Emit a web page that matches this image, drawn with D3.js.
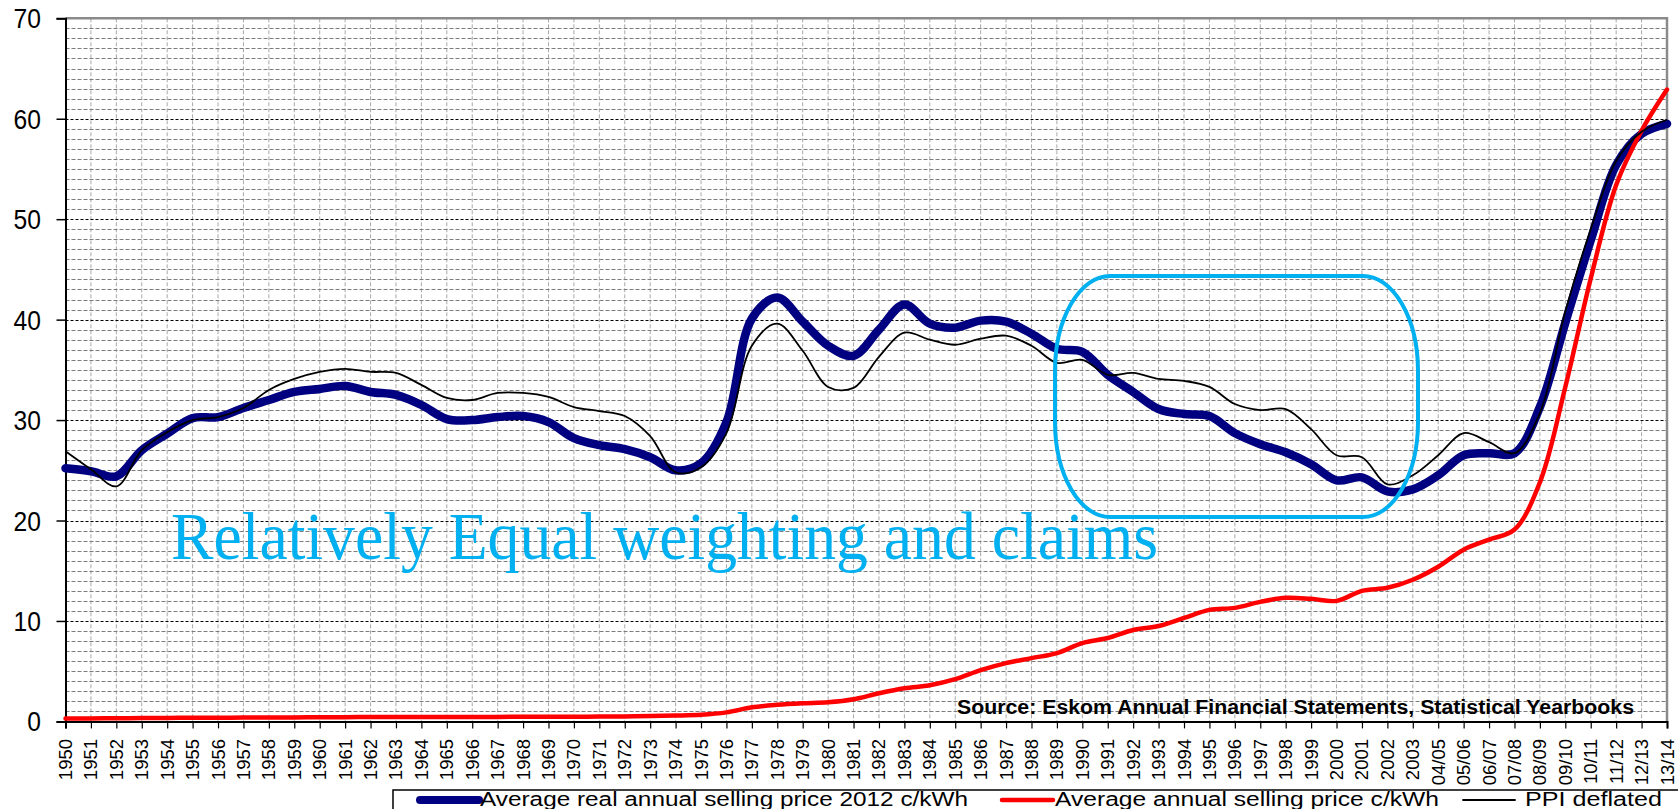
<!DOCTYPE html>
<html>
<head>
<meta charset="utf-8">
<script src="https://cdn.jsdelivr.net/npm/d3@7"></script>
<style>
  html, body { margin: 0; padding: 0; background: #fff; }
  svg { display: block; }
</style>
</head>
<body>
<svg id="chart" width="1678" height="809"></svg>
<script>
// ---------------- DATA ----------------
const categories = [
  "1950","1951","1952","1953","1954","1955","1956","1957","1958","1959",
  "1960","1961","1962","1963","1964","1965","1966","1967","1968","1969",
  "1970","1971","1972","1973","1974","1975","1976","1977","1978","1979",
  "1980","1981","1982","1983","1984","1985","1986","1987","1988","1989",
  "1990","1991","1992","1993","1994","1995","1996","1997","1998","1999",
  "2000","2001","2002","2003","04/05","05/06","06/07","07/08","08/09","09/10",
  "10/11","11/12","12/13","13/14"
];

const realPrice2012 = [
  25.2, 24.9, 24.4, 27.0, 28.65, 30.2, 30.3, 31.2, 32.0, 32.8,
  33.1, 33.4, 32.8, 32.5, 31.5, 30.1, 30.0, 30.3, 30.4, 29.8,
  28.2, 27.5, 27.1, 26.3, 25.0, 25.7, 29.8, 40.1, 42.2, 39.8,
  37.4, 36.4, 39.0, 41.5, 39.6, 39.2, 39.9, 39.8, 38.6, 37.1,
  36.8, 34.5, 32.8, 31.1, 30.6, 30.4, 28.7, 27.6, 26.8, 25.6,
  24.0, 24.3, 22.9, 23.1, 24.5, 26.5, 26.7, 26.7, 31.3, 39.7,
  47.9, 55.4, 58.5, 59.5
];

const nominalPrice = [
  0.30, 0.30, 0.32, 0.33, 0.35, 0.36, 0.37, 0.38, 0.39, 0.40,
  0.41, 0.42, 0.43, 0.43, 0.44, 0.44, 0.45, 0.45, 0.46, 0.46,
  0.47, 0.48, 0.50, 0.53, 0.58, 0.66, 0.9, 1.4, 1.65, 1.8,
  1.9, 2.2, 2.8, 3.3, 3.6, 4.2, 5.1, 5.8, 6.3, 6.8,
  7.8, 8.3, 9.1, 9.5, 10.3, 11.1, 11.3, 11.9, 12.3, 12.2,
  12.0, 13.0, 13.3, 14.1, 15.4, 17.1, 18.1, 19.1, 23.8, 33.3,
  44.1, 53.4, 58.8, 62.9
];

const ppiDeflated = [
  26.9, 25.1, 23.4, 27.0, 28.8, 30.0, 30.3, 31.2, 33.0, 34.1,
  34.8, 35.1, 34.8, 34.7, 33.5, 32.2, 32.0, 32.7, 32.7, 32.3,
  31.3, 30.9, 30.4, 28.4, 24.8, 25.3, 28.7, 37.4, 39.6, 36.9,
  33.3, 33.2, 36.3, 38.7, 38.0, 37.5, 38.1, 38.4, 37.4, 35.7,
  36.0, 34.5, 34.7, 34.1, 33.9, 33.3, 31.6, 31.0, 31.1, 29.1,
  26.5, 26.3, 23.6, 24.5, 26.5, 28.7, 27.8, 26.7, 30.7, 40.8,
  49.0, 55.8, 58.7, 59.9
];

const yTicks = [0, 10, 20, 30, 40, 50, 60, 70];

const seriesNames = [
  "Average real annual selling price 2012 c/kWh",
  "Average annual selling price c/kWh",
  "PPI deflated"
];
const sourceText = "Source: Eskom Annual Financial Statements, Statistical Yearbooks";
const annotationText = "Relatively Equal weighting and claims";

// ---------------- LAYOUT ----------------
const svg = d3.select("#chart");
const X0 = 65.5, X1 = 1667, Y0 = 721.4, Y1 = 18.3;
const sans = "'Liberation Sans', Arial, sans-serif";

const x = d3.scalePoint().domain(categories).range([X0, X1]);
const y = d3.scaleLinear().domain([0, 70]).range([Y0, Y1]);

// Gridlines
const grid = svg.append("g");
grid.selectAll("line.v").data(categories.slice(1, -1)).join("line")
  .attr("x1", d => x(d)).attr("x2", d => x(d))
  .attr("y1", Y1).attr("y2", Y0)
  .attr("stroke", "#a8a8a8").attr("stroke-width", 1)
  .attr("stroke-dasharray", "4,2");

const minor = d3.range(1, 70).filter(v => v % 10 !== 0);
grid.selectAll("line.hm").data(minor).join("line")
  .attr("x1", X0).attr("x2", X1)
  .attr("y1", d => Math.round(y(d)) + 0.5).attr("y2", d => Math.round(y(d)) + 0.5)
  .attr("stroke", "#7c7c7c").attr("stroke-width", 1)
  .attr("stroke-dasharray", "4,2");

grid.selectAll("line.hM").data(yTicks.filter(v => v > 0 && v < 70)).join("line")
  .attr("x1", X0).attr("x2", X1)
  .attr("y1", d => Math.round(y(d)) + 0.5).attr("y2", d => Math.round(y(d)) + 0.5)
  .attr("stroke", "#000").attr("stroke-width", 1)
  .attr("stroke-dasharray", "3,2");

// Plot border (top/right gray)
svg.append("path")
  .attr("d", `M${X0},${Y1} H${X1} V${Y0}`)
  .attr("fill", "none").attr("stroke", "#8a8a8a").attr("stroke-width", 2.5);

// Axes
const yAxis = d3.axisLeft(y).tickValues(yTicks).tickSize(9).tickFormat("");
svg.append("g").attr("transform", `translate(${X0},0)`).call(yAxis)
  .call(g => g.select(".domain").attr("stroke", "#000").attr("stroke-width", 2))
  .call(g => g.selectAll(".tick line").attr("stroke", "#000").attr("stroke-width", 1.5));

svg.append("g").selectAll("text").data(yTicks).join("text")
  .attr("transform", d => `translate(41,${y(d) + 10}) scale(0.88,1)`)
  .attr("text-anchor", "end")
  .attr("font-family", sans).attr("font-size", 28).attr("fill", "#000")
  .text(d => d);

const xAxis = d3.axisBottom(x).tickSize(7).tickFormat("");
svg.append("g").attr("transform", `translate(0,${Y0})`).call(xAxis)
  .call(g => g.select(".domain").attr("stroke", "#000").attr("stroke-width", 2))
  .call(g => g.selectAll(".tick line").attr("stroke", "#000").attr("stroke-width", 1.2));

svg.append("g").selectAll("text").data(categories).join("text")
  .attr("transform", d => `translate(${x(d) + 6.5},739) rotate(-90)`)
  .attr("text-anchor", "end")
  .attr("font-family", sans).attr("font-size", 18.5).attr("fill", "#000")
  .text(d => d);

// Source text
svg.append("text")
  .attr("x", 957).attr("y", 714)
  .attr("font-family", sans).attr("font-weight", "bold").attr("font-size", 20)
  .attr("textLength", 677).attr("lengthAdjust", "spacingAndGlyphs")
  .attr("fill", "#000").text(sourceText);

// Lines
const line = d3.line()
  .x((d, i) => x(categories[i]))
  .y(d => y(d))
  .curve(d3.curveCatmullRom.alpha(0.5));

svg.append("path").datum(realPrice2012).attr("d", line)
  .attr("fill", "none").attr("stroke", "#000080").attr("stroke-width", 8.5)
  .attr("stroke-linejoin", "round").attr("stroke-linecap", "round");
svg.append("path").datum(nominalPrice).attr("d", line)
  .attr("fill", "none").attr("stroke", "#ff0000").attr("stroke-width", 4.5)
  .attr("stroke-linejoin", "round").attr("stroke-linecap", "round");
svg.append("path").datum(ppiDeflated).attr("d", line)
  .attr("fill", "none").attr("stroke", "#000").attr("stroke-width", 1.8)
  .attr("stroke-linejoin", "round");

// Annotation
svg.append("text")
  .attr("x", 171).attr("y", 559)
  .attr("font-family", "'Liberation Serif', 'Times New Roman', serif")
  .attr("font-size", 68).attr("fill", "#00b0f0")
  .attr("textLength", 987).attr("lengthAdjust", "spacingAndGlyphs")
  .text(annotationText);

svg.append("rect")
  .attr("x", 1055).attr("y", 276).attr("width", 363).attr("height", 241)
  .attr("rx", 55).attr("ry", 95)
  .attr("fill", "none").attr("stroke", "#00b0f0").attr("stroke-width", 4);

// Legend
const lg = svg.append("g");
lg.append("rect").attr("x", 393).attr("y", 790).attr("width", 1400).attr("height", 40)
  .attr("fill", "#fff").attr("stroke", "#000").attr("stroke-width", 1.5);

const legendItems = [
  { name: seriesNames[0], color: "#000080", w: 8, lx0: 420, lx1: 479, tx: 480, tl: 488 },
  { name: seriesNames[1], color: "#ff0000", w: 4.5, lx0: 1002, lx1: 1053, tx: 1055, tl: 384 },
  { name: seriesNames[2], color: "#000", w: 1.8, lx0: 1463, lx1: 1515, tx: 1525, tl: 137 }
];
legendItems.forEach(it => {
  lg.append("line").attr("x1", it.lx0).attr("x2", it.lx1).attr("y1", 800).attr("y2", 800)
    .attr("stroke", it.color).attr("stroke-width", it.w).attr("stroke-linecap", "round");
  lg.append("text").attr("x", it.tx).attr("y", 806)
    .attr("font-family", sans).attr("font-size", 20).attr("fill", "#000")
    .attr("textLength", it.tl).attr("lengthAdjust", "spacingAndGlyphs")
    .text(it.name);
});
</script>
</body>
</html>
